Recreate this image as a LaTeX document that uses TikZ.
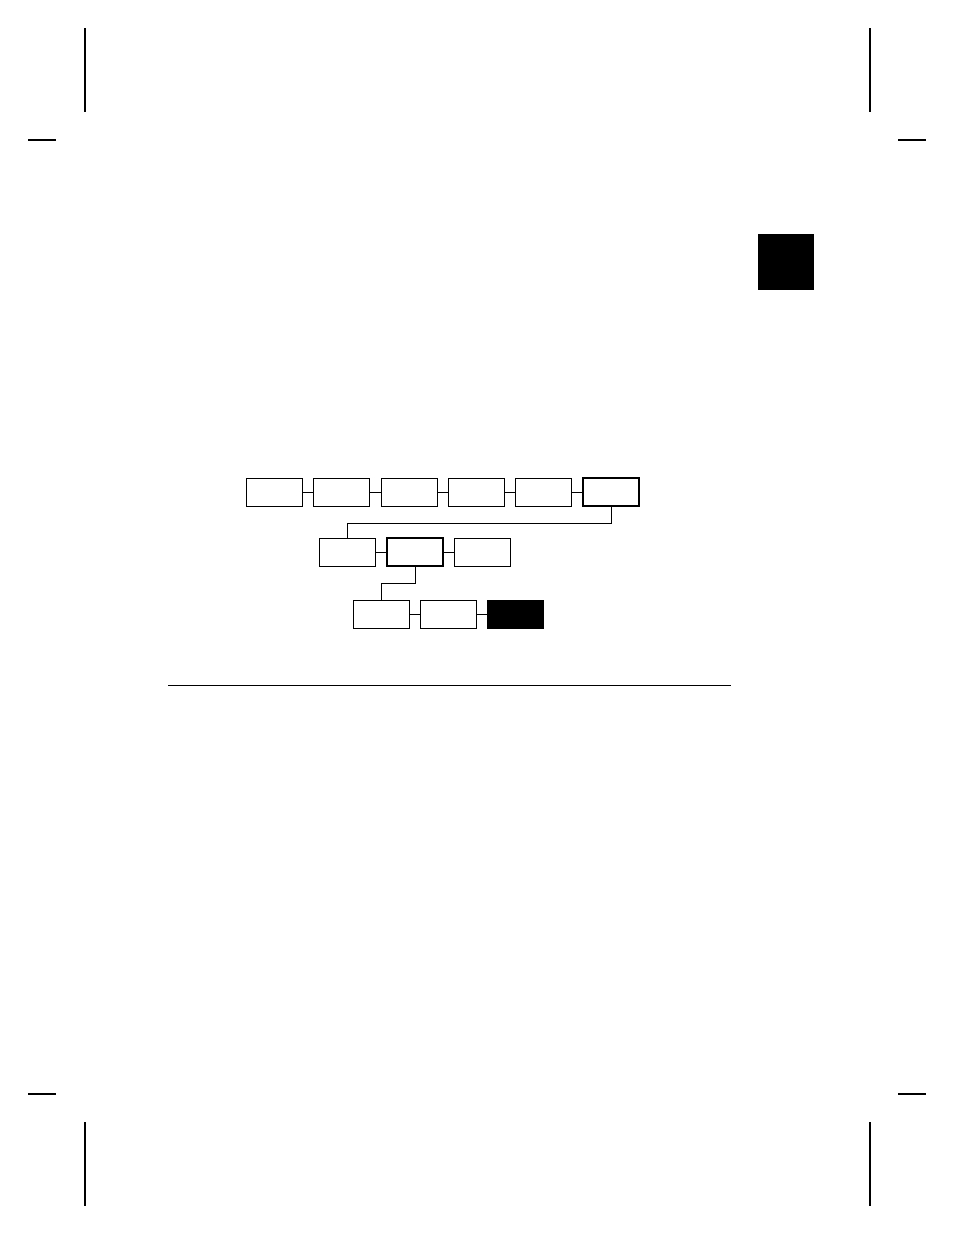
\documentclass[tikz,border=0pt]{standalone}
\begin{document}
\begin{tikzpicture}[x=1pt,y=-1pt,
	menubox/.style={draw, line width=1pt, minimum width=56pt, minimum height=28pt, inner sep=0pt},
	selbox/.style={menubox, line width=2.8pt},
	endbox/.style={menubox, fill=black},
	crop/.style={line width=2pt},
	link/.style={line width=1pt}]
	\useasboundingbox (0,0) rectangle (954,1235);
	\draw[crop] (85,28) -- (85,112);
	\draw[crop] (28,140) -- (56,140);
	\draw[crop] (870,28) -- (870,112);
	\draw[crop] (898,140) -- (926,140);
	\draw[crop] (28,1094) -- (56,1094);
	\draw[crop] (85,1122) -- (85,1206);
	\draw[crop] (898,1094) -- (926,1094);
	\draw[crop] (870,1122) -- (870,1206);
	\fill (758,234) rectangle (814,290);
	\node[menubox] (a1) at (274,492) {};
	\node[menubox] (a2) at (341,492) {};
	\node[menubox] (a3) at (409,492) {};
	\node[menubox] (a4) at (476,492) {};
	\node[menubox] (a5) at (543,492) {};
	\node[selbox] (a6) at (611,492) {};
	\node[menubox] (b1) at (347,552) {};
	\node[selbox] (b2) at (415,552) {};
	\node[menubox] (b3) at (482,552) {};
	\node[menubox] (c1) at (381.5,614) {};
	\node[menubox] (c2) at (448.5,614) {};
	\node[endbox] (c3) at (515.5,614) {};
	\draw[link] (a1) -- (a2);
	\draw[link] (a2) -- (a3);
	\draw[link] (a3) -- (a4);
	\draw[link] (a4) -- (a5);
	\draw[link] (a5) -- (a6);
	\draw[link] (a6.south) -- ++(0,16) -| (b1.north);
	\draw[link] (b1) -- (b2);
	\draw[link] (b2) -- (b3);
	\draw[link] (b2.south) -- ++(0,16) -| (c1.north);
	\draw[link] (c1) -- (c2);
	\draw[link] (c2) -- (c3);
	\draw[line width=1pt] (168,685) -- (731,685);
\end{tikzpicture}
\end{document}
